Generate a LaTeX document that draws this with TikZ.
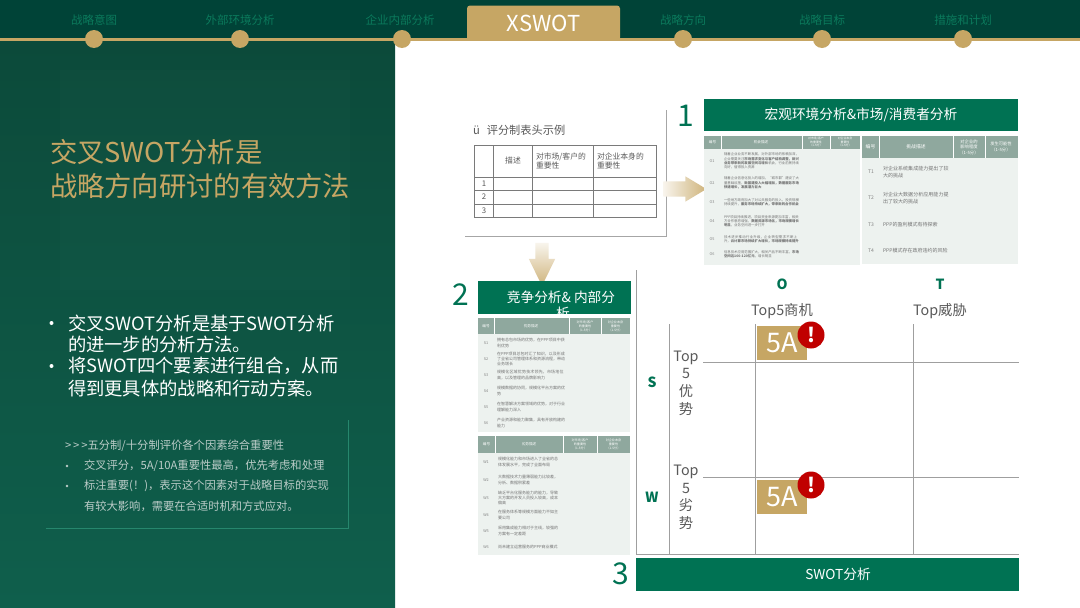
\documentclass[tikz,border=0pt]{standalone}
\usepackage{xcolor}
\usepackage{fontspec}
\setmainfont{Noto Sans CJK SC}
\XeTeXlinebreaklocale "zh"
\XeTeXlinebreakskip=0pt plus 1pt
\usetikzlibrary{shapes,positioning}

\definecolor{navgreen}{HTML}{004337}
\definecolor{panelgreen}{HTML}{0C4A3A}
\definecolor{panellow}{HTML}{0F5F4C}
\definecolor{boxgreen}{HTML}{007253}
\definecolor{navlabelgreen}{HTML}{0B7A5C}
\definecolor{gold}{HTML}{C6A664}
\definecolor{tablehead}{HTML}{8FA89E}
\definecolor{tablebody}{HTML}{EDF2EF}
\definecolor{greytext}{HTML}{595959}
\definecolor{alertred}{HTML}{C00000}

\newcommand{\fs}[1]{\fontsize{#1}{#1}\selectfont}

\begin{document}
\begin{tikzpicture}[x=1pt, y=-1pt, every node/.style={inner sep=0pt, outer sep=0pt}]
        \tikzstyle{navlabel} = [text=navlabelgreen, font=\fs{11.5}]
        \tikzstyle{navdot} = [circle, fill=gold, minimum size=18pt]
        \tikzstyle{bigsign} = [text=boxgreen, font=\fs{30}]
        \tikzstyle{greenbar} = [rectangle, fill=boxgreen, text=white, font=\fs{13.7}, anchor=north west]
        \tikzstyle{headcell} = [text=white, font=\fontsize{3.6}{4.3}\selectfont, align=center]
        \tikzstyle{smallhead} = [text=white, font=\fontsize{3.1}{4}\selectfont, align=center]
        \tikzstyle{rowtag} = [text=greytext!75, font=\fs{3.8}]
        \tikzstyle{rowtext} = [text=greytext!85, font=\fontsize{4}{5.4}\selectfont, align=left, anchor=west, text width=68pt]
        \tikzstyle{weakrow} = [text=greytext!85, font=\fontsize{4}{5.4}\selectfont, align=left, anchor=west, text width=60pt]
        \tikzstyle{denserow} = [text=greytext!85, font=\fontsize{3.4}{4.2}\selectfont, align=left, anchor=west, text width=75pt]
        \tikzstyle{bigrowtext} = [text=greytext!85, font=\fontsize{5}{7}\selectfont, align=left, anchor=west, text width=66pt]
        \tikzstyle{chartline} = [draw=gray!75, line width=0.7pt]
        \tikzstyle{cardline} = [draw=greytext!80, line width=0.6pt]
        \tikzstyle{cardtext} = [text=greytext, font=\fontsize{7.8}{9.6}\selectfont]
        \tikzstyle{chartlabel} = [text=greytext, font=\fs{14.3}]
        \tikzstyle{swotletter} = [text=boxgreen, font=\fs{14}\bfseries]
        \tikzstyle{fivea} = [rectangle, fill=gold, text=white, font=\fs{27}, minimum width=50pt, minimum height=34pt]
        \tikzstyle{alert} = [circle, fill=alertred, text=white, font=\fs{20}\bfseries, minimum size=27pt]
        \tikzstyle{bullet} = [text=white, font=\fs{18.3}, anchor=west]
        \tikzstyle{note} = [text=white!72!panelgreen, font=\fs{11.3}, anchor=west]

        % background
        \path [use as bounding box] (0,0) rectangle (1080,608);
        \fill [white] (0,0) rectangle (1080,608);
        \shade [top color=panelgreen, bottom color=panellow] (0,40) rectangle (395,608);
        \fill [white, opacity=0.01] (60,70) rectangle (350,290);
        \fill [navgreen] (0,0) rectangle (1080,39);
        \draw [gold, line width=2.4pt] (0,39.5) -- (1080,39.5);

        % navigation
        \node (tabx) [rectangle, fill=gold, rounded corners=3pt, minimum width=153pt, minimum height=35pt, text=white, font=\fs{22}] at (543.5,23) {XSWOT};
        \node (navone) [navlabel] at (94,20.5) {战略意图};
        \node (navtwo) [navlabel] at (240,20.5) {外部环境分析};
        \node (navthree) [navlabel] at (400,20.5) {企业内部分析};
        \node (navfive) [navlabel] at (683,20.5) {战略方向};
        \node (navsix) [navlabel] at (822,20.5) {战略目标};
        \node (navseven) [navlabel] at (963,20.5) {措施和计划};
        \node (dotone) [navdot] at (94,39) {};
        \node (dottwo) [navdot] at (240,39) {};
        \node (dotthree) [navdot] at (402,39) {};
        \node (dotfive) [navdot] at (683,39) {};
        \node (dotsix) [navdot] at (822,39) {};
        \node (dotseven) [navdot] at (963,39) {};

        % left panel
        \node (title) [text=gold, font=\fs{27.3}, align=left, anchor=west] at (50,169) {交叉SWOT分析是\\[7pt]战略方向研讨的有效方法};
        \node (bulletone) [bullet] at (68,323) {交叉SWOT分析是基于SWOT分析};
        \node (bullettwo) [bullet] at (68,345) {的进一步的分析方法。};
        \node (bulletthree) [bullet] at (68,366) {将SWOT四个要素进行组合，从而};
        \node (bulletfour) [bullet] at (68,389) {得到更具体的战略和行动方案。};
        \fill [white] (51.5,323) circle (2pt);
        \fill [white] (51.5,366) circle (2pt);
        \draw [boxgreen!85!white, line width=0.8pt] (46,528) -- (348,528) -- (348,420);
        \node (noteone) [note] at (65,446) {>\,>\,>五分制/十分制评价各个因素综合重要性};
        \node (notetwo) [note] at (84,466) {交叉评分，5A/10A重要性最高，优先考虑和处理};
        \node (notethree) [note] at (84,486) {标注重要(！)，表示这个因素对于战略目标的实现};
        \node (notefour) [note] at (84,506) {有较大影响，需要在合适时机和方式应对。};
        \fill [white!72!panelgreen] (67,466) circle (1.3pt);
        \fill [white!72!panelgreen] (67,486) circle (1.3pt);

        % scoring card
        \draw [gray!70, line width=1pt] (465,236) -- (666,236) -- (666,110);
        \node (cardtitle) [text=greytext, font=\fs{11.2}, anchor=west] at (473,130) {ü\hspace{7pt}评分制表头示例};
        \draw [cardline] (474,145) rectangle (656,217);
        \draw [cardline] (474,177) -- (656,177);
        \draw [cardline] (474,190) -- (656,190);
        \draw [cardline] (474,204) -- (656,204);
        \draw [cardline] (493,145) -- (493,217);
        \draw [cardline] (532,145) -- (532,217);
        \draw [cardline] (593,145) -- (593,217);
        \node (cardhead) [cardtext] at (513,161) {描述};
        \node (cardmarket) [cardtext, align=left, anchor=west] at (536,161) {对市场/客户的\\重要性};
        \node (cardself) [cardtext, align=left, anchor=west] at (597,161) {对企业本身的\\重要性};
        \node (cardone) [cardtext] at (484,183.5) {1};
        \node (cardtwo) [cardtext] at (484,197) {2};
        \node (cardthree) [cardtext] at (484,210.5) {3};
        \node (arrowright) [single arrow, shape border rotate=0, inner sep=7.5pt, single arrow head extend=5pt, single arrow tip angle=62, minimum width=25pt, minimum height=43pt, left color=gold!12!white, right color=gold!85!white] at (678.5,189) {};
        \node (arrowdown) [single arrow, shape border rotate=270, inner sep=6.5pt, single arrow head extend=6.5pt, single arrow tip angle=52, minimum width=26pt, minimum height=43pt, top color=gold!12!white, bottom color=gold!85!white] at (542,257.5) {};

        % opportunity table
        \node (signone) [bigsign] at (685.5,116) {1};
        \node (barone) [greenbar, minimum width=314pt, minimum height=32pt] at (704,99) {宏观环境分析\&市场/消费者分析};
        \fill [tablebody] (704,136) rectangle (860,265);
        \fill [tablehead] (704,136) rectangle (860,148.5);
        \fill [white] (721,136) rectangle (721.6,148.5);
        \fill [white] (802,136) rectangle (802.6,148.5);
        \fill [white] (830,136) rectangle (830.6,148.5);
        \node (ohead) [headcell] at (712.5,142) {编号};
        \node (oheaddesc) [headcell] at (761,142) {机会描述};
        \node (ohscore) [smallhead, font=\fontsize{2.9}{3.6}\selectfont] at (816,142) {对市场/客户\\的重要性\\（1-5分）};
        \node (ohself) [smallhead, font=\fontsize{2.9}{3.6}\selectfont] at (845,142) {对企业本身\\重要性\\（1-5分）};
        \node (otagone) [rowtag] at (712,161) {O1};
        \node (otagtwo) [rowtag] at (712,183) {O2};
        \node (otagthree) [rowtag] at (712,202) {O3};
        \node (otagfour) [rowtag] at (712,221) {O4};
        \node (otagfive) [rowtag] at (712,239) {O5};
        \node (otagsix) [rowtag] at (712,254) {O6};
        \node (orowone) [denserow] at (724,161) {随着企业业务不断发展，对外部市场的依赖加深，企业需要关注\textbf{市场需求变化与客户结构调整，新兴业务带来新的发展空间与增长}机会，行业前景持续向好，值得投入资源};
        \node (orowtwo) [denserow] at (724,183) {随着企业信息化投入的增加，“城市群”建设了大量基础设施，\textbf{新基建投入大幅增加，数据服务市场快速增长，发展潜力巨大}};
        \node (orowthree) [denserow] at (724,202) {一些地方政府加大了对公共服务的投入，投资规模持续提升，\textbf{服务市场持续扩大，带来新的合作机会}};
        \node (orowfour) [denserow] at (724,221) {PPP项目持续推进，项目资金来源更加丰富，相关方合作意愿增强，\textbf{数据资源市场化，市场规模增长明显}，业务空间进一步打开};
        \node (orowfive) [denserow] at (724,239) {技术进步推动行业升级，企业转型需求不断上升，\textbf{云计算市场持续扩大增长，市场规模持续提升}};
        \node (orowsix) [denserow] at (724,254) {信息技术应用范围扩大，相关产品不断丰富，\textbf{市场空间达100-120亿元}，增长明显};

        % threat table
        \fill [tablebody] (862,136) rectangle (1018,264);
        \fill [tablehead] (862,136) rectangle (1018,158);
        \fill [white] (879,136) rectangle (879.6,158);
        \fill [white] (953,136) rectangle (953.6,158);
        \fill [white] (985,136) rectangle (985.6,158);
        \node (thead) [headcell, font=\fs{4.8}] at (870.5,147) {编号};
        \node (theaddesc) [headcell, font=\fs{4.8}] at (916,147) {挑战描述};
        \node (theadimpact) [headcell, font=\fontsize{4.3}{5.6}\selectfont] at (969,147) {对企业的\\影响程度\\（1-5分）};
        \node (theadlikely) [headcell, font=\fontsize{4.3}{5.6}\selectfont] at (1001,147) {发生可能性\\（1-5分）};
        \node (ttagone) [rowtag, font=\fs{5}] at (871,172) {T1};
        \node (ttagtwo) [rowtag, font=\fs{5}] at (871,198) {T2};
        \node (ttagthree) [rowtag, font=\fs{5}] at (871,225) {T3};
        \node (ttagfour) [rowtag, font=\fs{5}] at (871,251) {T4};
        \node (trowone) [bigrowtext] at (883,172) {对企业系统集成能力提出了较大的挑战};
        \node (trowtwo) [bigrowtext] at (883,198) {对企业大数据分析应用能力提出了较大的挑战};
        \node (trowthree) [bigrowtext] at (883,225) {PPP的盈利模式有待探索};
        \node (trowfour) [bigrowtext] at (883,251) {PPP模式存在政府违约的风险};

        % strength table
        \node (signtwo) [bigsign] at (460.5,295) {2};
        \node (bartwo) [greenbar, minimum width=153pt, minimum height=33pt] at (478,281) {};
        \node (bartwotext) [text=white, font=\fs{13.7}] at (561,297) {竞争分析\& 内部分};
        \begin{scope}
            \clip (478,281) rectangle (631,314);
            \node (bartwowrap) [text=white, font=\fs{13.7}] at (563,313) {析};
        \end{scope}
        \fill [tablebody] (478,318) rectangle (630,432);
        \fill [tablehead] (478,318) rectangle (630,334);
        \fill [white] (494,318) rectangle (494.6,334);
        \fill [white] (569,318) rectangle (569.6,334);
        \fill [white] (601,318) rectangle (601.6,334);
        \node (shead) [headcell] at (486,326) {编号};
        \node (sheaddesc) [headcell] at (531,326) {优势描述};
        \node (sheadmarket) [smallhead] at (585,326) {对市场/客户\\的重要性\\（1-5分）};
        \node (sheadself) [smallhead] at (615.5,326) {对企业本身\\重要性\\（1-5分）};
        \node (stagone) [rowtag] at (486,343) {S1};
        \node (stagtwo) [rowtag] at (486,359) {S2};
        \node (stagthree) [rowtag] at (486,375) {S3};
        \node (stagfour) [rowtag] at (486,391) {S4};
        \node (stagfive) [rowtag] at (486,407) {S5};
        \node (stagsix) [rowtag] at (486,423) {S6};
        \node (srowone) [rowtext] at (497,343) {拥有总包市场的优势，在PPP项目中获利优势};
        \node (srowtwo) [rowtext] at (497,359) {在PPP项目总包时汇了知识，以及形成了全省公司管理体系和资源流程，带动业务增长};
        \node (srowthree) [rowtext] at (497,375) {规模化区域优势技术领先，市场地位高，以及管理的品牌影响力};
        \node (srowfour) [rowtext] at (497,391) {规模数据的协同，规模化平台方案的优势};
        \node (srowfive) [rowtext] at (497,407) {在智慧解决方案领域的优势，对于行业理解能力深入};
        \node (srowsix) [rowtext] at (497,423) {产业资源和能力聚集，具有开放构建的能力};

        % weakness table
        \fill [tablebody] (478,436) rectangle (630,555);
        \fill [tablehead] (478,436) rectangle (630,453);
        \fill [white] (495,436) rectangle (495.6,453);
        \fill [white] (563,436) rectangle (563.6,453);
        \fill [white] (597,436) rectangle (597.6,453);
        \node (whead) [headcell] at (486.5,444.5) {编号};
        \node (wheaddesc) [headcell] at (529,444.5) {劣势描述};
        \node (wheadmarket) [smallhead] at (580,444.5) {对市场/客户\\的重要性\\（1-5分）};
        \node (wheadself) [smallhead] at (613.5,444.5) {对企业本身\\重要性\\（1-5分）};
        \node (wtagone) [rowtag] at (486,462) {W1};
        \node (wtagtwo) [rowtag] at (486,480) {W2};
        \node (wtagthree) [rowtag] at (486,498) {W3};
        \node (wtagfour) [rowtag] at (486,515) {W4};
        \node (wtagfive) [rowtag] at (486,531) {W5};
        \node (wtagsix) [rowtag] at (486,547) {W6};
        \node (wrowone) [weakrow] at (498,462) {规模化能力和市场进入了全省的总体发展水平，完成了全面布局};
        \node (wrowtwo) [weakrow] at (498,480) {大数据技术力量薄弱能力比较差，分析、数据积累差};
        \node (wrowthree) [weakrow] at (498,498) {缺乏平台化服务能力的能力，导致大方案的开发人员投入较高，成本偏高};
        \node (wrowfour) [weakrow] at (498,515) {在服务体系等规模方面能力不如主要公司};
        \node (wrowfive) [weakrow] at (498,531) {采用集成能力相对于主线，较强的方案有一定差距};
        \node (wrowsix) [weakrow] at (498,547) {尚未建立运营服务的PPP商业模式};

        % swot chart
        \draw [chartline] (636,270) -- (636,554) -- (1019,554);
        \draw [chartline] (669,324) -- (669,554);
        \draw [chartline] (755,324) -- (755,554);
        \draw [chartline] (913,324) -- (913,554);
        \draw [chartline] (703,362) -- (1019,362);
        \draw [chartline] (703,477) -- (1019,477);
        \node (letterO) [swotletter] at (782,284) {O};
        \node (letterT) [swotletter] at (940,284) {T};
        \node (topO) [chartlabel] at (782,311) {Top5商机};
        \node (topT) [chartlabel] at (940,311) {Top威胁};
        \node (letterS) [swotletter] at (652,382) {S};
        \node (letterW) [swotletter] at (652,497) {W};
        \node (topS) [chartlabel, align=center, font=\fontsize{14.3}{17.6}\selectfont] at (686,383) {Top\\5\\优\\势};
        \node (topW) [chartlabel, align=center, font=\fontsize{14.3}{17.6}\selectfont] at (686,497.5) {Top\\5\\劣\\势};
        \node (fiveA) [fivea] at (782,343) {5A};
        \node (alertA) [alert] at (811,335) {!};
        \node (fiveB) [fivea] at (782,497) {5A};
        \node (alertB) [alert] at (811,485) {!};
        \node (signthree) [bigsign] at (620.5,574) {3};
        \node (barthree) [greenbar, minimum width=383pt, minimum height=33pt] at (636,558) {};
        \node (barthreetext) [text=white, font=\fs{13.7}] at (838,574) {SWOT分析};
    \end{tikzpicture}
\end{document}
